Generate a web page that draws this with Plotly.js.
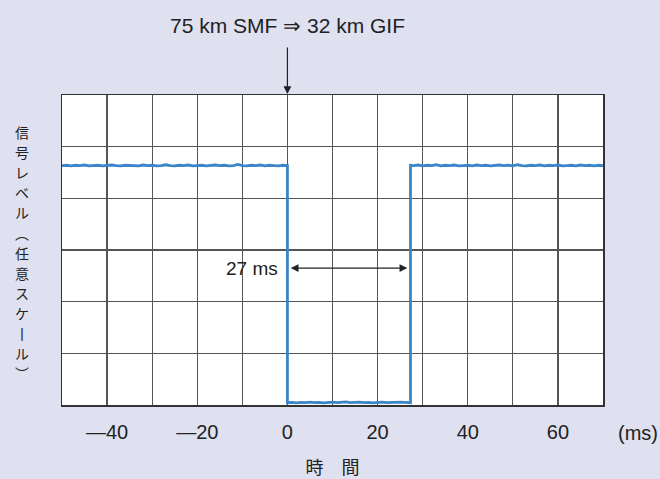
<!DOCTYPE html>
<html>
<head>
<meta charset="utf-8">
<script src="https://cdn.plot.ly/plotly-3.0.1.min.js"></script>
<style>html,body{margin:0;padding:0;background:#dfe0f0;}</style>
</head>
<body>
<div id="chart" style="width:660px;height:479px;"></div>
<script>
// ---- data ----
const signalT = [
  -50,-49,-48,-47,-46,-45,-44,-43,-42,-41,-40,-39,-38,-37,-36,-35,-34,-33,-32,-31,
  -30,-29,-28,-27,-26,-25,-24,-23,-22,-21,-20,-19,-18,-17,-16,-15,-14,-13,-12,-11,
  -10,-9,-8,-7,-6,-5,-4,-3,-2,-1,0,
  0,1,2,3,4,5,6,7,8,9,10,11,12,13,14,15,16,17,18,19,20,21,22,23,24,25,26,27,27.3,
  27.3,28,29,30,31,32,33,34,35,36,37,38,39,40,41,42,43,44,45,46,47,48,49,50,
  51,52,53,54,55,56,57,58,59,60,61,62,63,64,65,66,67,68,69,70];
const signalY = [
  4.635,4.64,4.63,4.64,4.635,4.645,4.63,4.635,4.64,4.63,
  4.635,4.645,4.635,4.63,4.64,4.635,4.64,4.63,4.645,4.635,
  4.64,4.63,4.635,4.65,4.635,4.63,4.64,4.635,4.645,4.63,
  4.635,4.64,4.63,4.635,4.645,4.635,4.64,4.63,4.635,4.655,
  4.635,4.63,4.64,4.635,4.645,4.63,4.64,4.635,4.63,4.64,4.635,
  0.045,0.05,0.04,0.05,0.045,0.055,0.045,0.05,0.04,0.05,
  0.055,0.045,0.05,0.06,0.045,0.05,0.055,0.045,0.05,0.04,
  0.05,0.055,0.045,0.05,0.045,0.055,0.05,0.045,0.045,
  4.64,4.635,4.645,4.63,4.64,4.635,4.65,4.63,4.64,4.635,
  4.645,4.63,4.635,4.64,4.63,4.645,4.635,4.64,4.63,4.635,
  4.645,4.635,4.64,4.63,4.65,4.635,4.63,4.64,4.635,4.645,
  4.63,4.64,4.635,4.645,4.63,4.635,4.64,4.63,4.645,4.635,
  4.64,4.63,4.64,4.635];
const xGridVals = [-50,-40,-30,-20,-10,0,10,20,30,40,50,60,70];
const xTickText = ['','—40','','—20','','0','','20','','40','','60',''];
const yTitleChars = ['信','号','レ','ベ','ル','︵','任','意','ス','ケ','丨','ル','︶'];
const topLabel = '75 km SMF ⇒ 32 km GIF';
const switchTime = 0;
const gapStart = 0.4, gapEnd = 26.6, gapLevel = 2.65;
const gapLabel = '27 ms';
const xTitle = '時　間';
const xUnit = '(ms)';

// ---- chart ----
const lat = 'Liberation Sans, Arial, sans-serif';
const cjk = 'Noto Sans CJK JP, sans-serif';
const ink = '#222222';

const trace = {
  x: signalT, y: signalY, type: 'scatter', mode: 'lines',
  line: {color: '#3a86c8', width: 2.8},
  hoverinfo: 'skip'
};

const annotations = [
  {xref:'x', x:switchTime, yref:'paper', y:(405-25)/310, xanchor:'center', yanchor:'middle',
   text:topLabel, showarrow:false, font:{family:lat, size:21, color:ink}},
  {xref:'x', x:switchTime, yref:'paper', y:(405-94)/310, text:'', showarrow:true,
   ax:0, ay:-48, arrowhead:2, arrowsize:1.3, arrowwidth:1.2, arrowcolor:ink},
  {xref:'x', yref:'y', x:gapEnd, y:gapLevel, axref:'x', ayref:'y', ax:gapStart, ay:gapLevel,
   text:'', showarrow:true, arrowside:'end+start', arrowhead:2, arrowsize:1.3, arrowwidth:1.2, arrowcolor:ink},
  {xref:'x', yref:'y', x:-1.6, y:gapLevel, xanchor:'right', yanchor:'middle', text:gapLabel, showarrow:false,
   font:{family:lat, size:19, color:ink}},
  {xref:'paper', yref:'paper', x:(638-62)/541, y:(405-433)/310, xanchor:'center', yanchor:'middle',
   text:xUnit, showarrow:false, font:{family:lat, size:20, color:ink}}
];
// vertical (stacked) y-axis title, one character per line
yTitleChars.forEach((c, i) => {
  annotations.push({xref:'paper', yref:'paper', x:(22-62)/541, y:(405-(132+i*20.1))/310,
    xanchor:'center', yanchor:'middle', borderpad:0,
    text:c, showarrow:false, font:{family:cjk, size:14, color:ink}});
});

const layout = {
  width:660, height:479,
  paper_bgcolor:'#dfe0f0', plot_bgcolor:'#ffffff',
  margin:{l:62, r:57, t:95, b:74},
  showlegend:false,
  xaxis:{range:[-50,70], tickmode:'array', tickvals:xGridVals, ticktext:xTickText,
    showgrid:true, gridcolor:'#555555', gridwidth:1.2, zeroline:false,
    showline:true, mirror:true, linecolor:'#333333', linewidth:1.5,
    ticks:'', ticklabelstandoff:8,
    tickfont:{family:lat, size:20, color:ink},
    title:{text:xTitle, font:{family:cjk, size:18, color:ink}, standoff:22}},
  yaxis:{range:[0,6], dtick:1, showticklabels:false, showgrid:true, gridcolor:'#555555', gridwidth:1.2,
    zeroline:false, showline:true, mirror:true, linecolor:'#333333', linewidth:1.5, ticks:''},
  annotations: annotations
};

Plotly.newPlot('chart', [trace], layout, {displayModeBar:false, staticPlot:true});
</script>
</body>
</html>
